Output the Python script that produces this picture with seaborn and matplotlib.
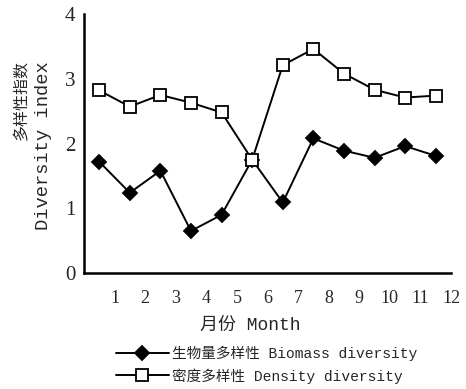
import matplotlib
matplotlib.use("Agg")
import matplotlib.pyplot as plt
import seaborn as sns
import pandas as pd

# month positions (mid-month) and diversity indices
months = [0.5, 1.5, 2.5, 3.5, 4.5, 5.5, 6.5, 7.5, 8.5, 9.5, 10.5, 11.5]
biomass = [1.72, 1.24, 1.58, 0.65, 0.90, 1.75, 1.09, 2.08, 1.89, 1.78, 1.96, 1.81]
density = [2.82, 2.57, 2.75, 2.63, 2.48, 1.75, 3.21, 3.46, 3.08, 2.83, 2.71, 2.74]
xticks = list(range(1, 13))
yticks = [0, 1, 2, 3, 4]
labels = ["生物量多样性 Biomass diversity", "密度多样性 Density diversity"]

df = pd.DataFrame({"month": months * 2,
                   "value": biomass + density,
                   "series": [labels[0]] * 12 + [labels[1]] * 12})

sns.set_style("white")
serif = ["Liberation Serif", "Noto Sans CJK SC"]
mono = ["Liberation Mono", "Noto Sans CJK SC"]
plt.rcParams["font.family"] = serif

fig = plt.figure(figsize=(4.66, 3.89), dpi=100)
ax = fig.add_axes([0.180, 0.298, 0.788, 0.666])

sns.lineplot(data=df, x="month", y="value", hue="series", style="series",
             palette=["black", "black"], markers=["D", "s"], dashes=False,
             linewidth=1.4, markersize=8, legend=False, ax=ax)
# diamonds filled, squares hollow
for line, fc, ms in zip(ax.lines, ["black", "white"], [7.5, 9]):
    line.set_markerfacecolor(fc)
    line.set_markeredgecolor("black")
    line.set_markeredgewidth(1.3)
    line.set_markersize(ms)

ax.set_xlim(0, 12)
ax.set_ylim(0, 4)
ax.set_xticks(xticks)
ax.set_yticks(yticks)
ax.tick_params(axis="x", direction="in", length=3, width=1.2, labelsize=13, pad=12)
ax.tick_params(axis="y", direction="in", length=3, width=1.2, labelsize=15, pad=6)
for s in ["top", "right"]:
    ax.spines[s].set_visible(False)
for s in ["left", "bottom"]:
    ax.spines[s].set_linewidth(1.8)
    ax.spines[s].set_color("black")
ax.set_xlabel("")
ax.set_ylabel("")

fig.text(250 / 466, 1 - 325 / 389, "月份 Month", family=mono, fontsize=13,
         ha="center", va="center")
fig.text(22 / 466, 1 - 60 / 389, "多样性指数", family=["Noto Sans CJK SC"],
         fontsize=11.5, rotation=90, ha="center", va="top")
fig.text(44 / 466, 1 - 61 / 389, "Diversity index", family=mono,
         fontsize=13.5, rotation=90, ha="center", va="top")

handles = ax.lines[:2]
leg = fig.legend(handles, labels, loc="upper left",
                 bbox_to_anchor=(103 / 466, 1 - 333 / 389),
                 frameon=False, handlelength=3.6, handletextpad=0.2,
                 labelspacing=0.45, prop={"family": mono, "size": 10.5})

fig.savefig("out.png", dpi=100)
